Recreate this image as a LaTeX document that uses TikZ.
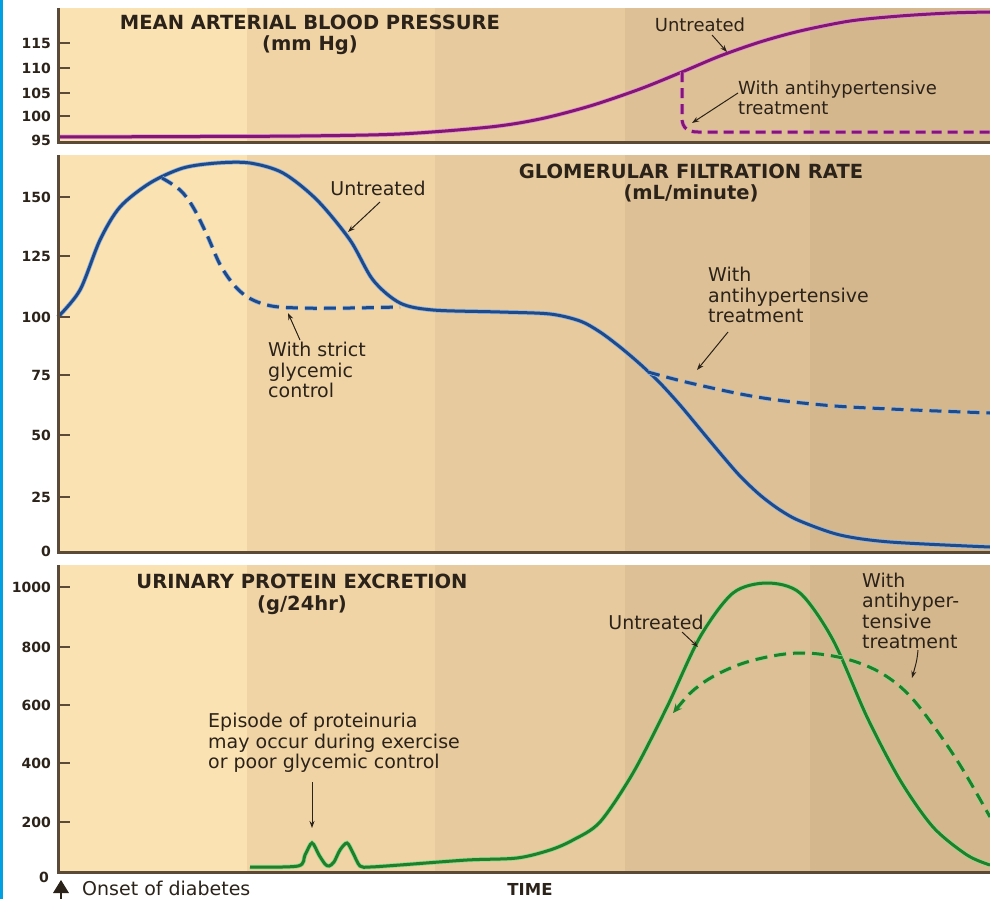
\documentclass[tikz,border=0pt]{standalone}
\usepackage{fontspec}
\setmainfont{DejaVu Sans}
\usetikzlibrary{arrows.meta}
\definecolor{bandA}{HTML}{FBE2B2}
\definecolor{bandB}{HTML}{F0D4A6}
\definecolor{bandC}{HTML}{E7CA9D}
\definecolor{bandD}{HTML}{DEC096}
\definecolor{bandE}{HTML}{D5B78E}
\definecolor{axisc}{HTML}{5C4A38}
\definecolor{txtc}{HTML}{2B2219}
\definecolor{mapc}{HTML}{821672}
\definecolor{maphalo}{HTML}{E295D6}
\definecolor{gfrc}{HTML}{1E4A8A}
\definecolor{gfrhalo}{HTML}{95B8E2}
\definecolor{grnc}{HTML}{1F7F2A}
\definecolor{grnhalo}{HTML}{8EDC8E}
\definecolor{framec}{HTML}{00A0E3}
\newcommand{\mypanelbg}[2]{%
  \fill[bandA] (58,#1) rectangle (247,#2);
  \fill[bandB] (247,#1) rectangle (435,#2);
  \fill[bandC] (435,#1) rectangle (625,#2);
  \fill[bandD] (625,#1) rectangle (810,#2);
  \fill[bandE] (810,#1) rectangle (990,#2);}
\tikzset{
  axisline/.style={draw=axisc, line width=3pt},
  tickmark/.style={draw=axisc, line width=2pt},
  ticklab/.style={anchor=east, inner sep=0pt, text=txtc, font=\fontsize{14}{14}\selectfont\bfseries},
  paneltitle/.style={align=center, inner sep=0pt, text=txtc, font=\fontsize{19.5}{21}\selectfont\bfseries},
  lab/.style={align=left, inner sep=0pt, text=txtc, font=\fontsize{19}{20.5}\selectfont},
  labsmall/.style={align=left, inner sep=0pt, text=txtc, font=\fontsize{18}{20}\selectfont},
  pointer/.style={draw=txtc, line width=1pt, -{Stealth[length=7pt,width=5pt]}},
  mapcurve/.style={draw=mapc, line width=3pt, preaction={draw=maphalo, line width=4.5pt}},
  mapdash/.style={draw=mapc, line width=3pt, dash pattern=on 10pt off 6pt,
     preaction={draw=maphalo, line width=4.5pt, dash pattern=on 10pt off 6pt}},
  gfrcurve/.style={draw=gfrc, line width=3pt, preaction={draw=gfrhalo, line width=4.5pt}},
  gfrdash/.style={draw=gfrc, line width=3pt, dash pattern=on 12pt off 7pt,
     preaction={draw=gfrhalo, line width=4.5pt, dash pattern=on 12pt off 7pt}},
  grncurve/.style={draw=grnc, line width=3pt, preaction={draw=grnhalo, line width=4.5pt}},
  grndash/.style={draw=grnc, line width=3pt, dash pattern=on 12pt off 7pt,
     preaction={draw=grnhalo, line width=4.5pt, dash pattern=on 12pt off 7pt}}
}
\begin{document}
\begin{tikzpicture}[x=1pt,y=-1pt]
\useasboundingbox (0,0) rectangle (990,899);
\fill[white] (0,0) rectangle (990,899);
\fill[framec] (0,0) rectangle (3,899);

% ---------- backgrounds ----------
\mypanelbg{8}{142}
\mypanelbg{155}{552}
\mypanelbg{565}{872}

% ---------- panel 1: MAP ----------
\draw[mapcurve] plot[smooth, tension=0.5] coordinates {(58,137) (200,136.5) (300,136) (400,134) (490,127) (540,119) (590,106) (640,89) (682,72) (720,56) (760,42) (800,31) (850,21) (900,16) (950,13) (990,12)};
\draw[mapdash] (682,72) -- (682,118) .. controls (682,128) and (688,132) .. (698,132) -- (990,132);
\draw[axisline] (58,8) -- (58,142) -- (990,142);
\foreach \yy/\lab in {43/115,68/110,93/105,116/100}{
  \draw[tickmark] (58,\yy) -- (70,\yy);
  \node[ticklab] at (51,\yy) {\lab};}
\node[ticklab] (l95) at (51,140) {95};
\node[paneltitle] (t1) at (310,35) {MEAN ARTERIAL BLOOD PRESSURE\\(mm Hg)};
\node[labsmall] (u1) at (700,25) {Untreated};
\node[labsmall, anchor=west] (a1) at (738,98) {With antihypertensive\\treatment};
\coordinate (u1s) at (712,35); \coordinate (u1e) at (727,52);
\coordinate (a1s) at (738,93); \coordinate (a1e) at (692,123);
\draw[pointer] (u1s) -- (u1e);
\draw[pointer] (a1s) -- (a1e);

% ---------- panel 2: GFR ----------
\draw[gfrcurve] plot[smooth, tension=0.5] coordinates {(58,317) (80,290) (100,240) (120,207) (150,183) (183,168) (217,163) (250,163) (283,173) (317,200) (350,240) (373,280) (400,303) (433,310) (500,312) (550,314) (580,321) (600,332) (620,347) (640,364) (660,383) (680,405) (700,429) (720,453) (740,476) (760,495) (780,510) (800,521) (840,535) (890,542) (990,547)};
\draw[gfrdash] plot[smooth, tension=0.6] coordinates {(162,178) (180,190) (193,207) (207,235) (222,268) (242,293) (267,305) (300,308) (350,308) (400,307)};
\draw[gfrdash] plot[smooth, tension=0.6] coordinates {(648,372) (690,383) (757,397) (823,405) (890,409) (990,413)};
\draw[axisline] (58,155) -- (58,552) -- (990,552);
\foreach \yy/\lab in {197/150,256/125,317/100,375/75,435/50,497/25}{
  \draw[tickmark] (58,\yy) -- (70,\yy);
  \node[ticklab] at (51,\yy) {\lab};}
\node[ticklab] (l0b) at (51,551) {0};
\node[paneltitle] (t2) at (691,183) {GLOMERULAR FILTRATION RATE\\(mL/minute)};
\node[lab] (u2) at (378,188) {Untreated};
\node[lab, anchor=west] (s2) at (268,370) {With strict\\glycemic\\control};
\node[lab, anchor=west] (a2) at (708,295) {With\\antihypertensive\\treatment};
\coordinate (u2s) at (380,202); \coordinate (u2e) at (348,232);
\coordinate (s2s) at (300,340); \coordinate (s2e) at (288,313);
\coordinate (a2s) at (728,332); \coordinate (a2e) at (697,370);
\draw[pointer] (u2s) -- (u2e);
\draw[pointer] (s2s) -- (s2e);
\draw[pointer] (a2s) -- (a2e);

% ---------- panel 3: urinary protein ----------
\draw[grncurve] plot[smooth, tension=0.5] coordinates {(250,867) (298,866) (305,855) (312,843) (319,855) (325,864) (329,866) (334,862) (340,850) (347,843) (353,853) (360,866) (370,867) (400,865) (467,860) (517,858) (550,850) (573,840) (600,822) (633,773) (667,707) (700,637) (733,593) (767,583) (800,593) (833,640) (867,717) (900,780) (933,827) (967,855) (990,865)};
\draw[grndash, {Stealth[length=9pt,width=8pt]}-] plot[smooth, tension=0.6] coordinates {(673,713) (700,685) (733,667) (767,657) (800,653) (833,656) (862,664) (886,676) (908,694) (930,721) (960,765) (990,817)};
\draw[axisline] (58,565) -- (58,872) -- (990,872);
\foreach \yy/\lab in {587/1000,647/800,705/600,763/400,822/200}{
  \draw[tickmark] (58,\yy) -- (70,\yy);
  \node[ticklab] at (51,\yy) {\lab};}
\node[ticklab] (l0c) at (49,877) {0};
\node[paneltitle, font=\fontsize{19.5}{22}\selectfont\bfseries] (t3) at (302,594) {URINARY PROTEIN EXCRETION\\(g/24hr)};
\node[lab] (u3) at (656,622) {Untreated};
\node[lab, anchor=west] (a3) at (862,611) {With\\antihyper-\\tensive\\treatment};
\node[lab, anchor=west] (e3) at (208,743) {Episode of proteinuria\\may occur during exercise\\or poor glycemic control};
\coordinate (u3s) at (682,632); \coordinate (u3e) at (698,647);
\coordinate (a3s) at (918,650); \coordinate (a3e) at (912,678);
\coordinate (e3s) at (312,782); \coordinate (e3e) at (312,828);
\draw[pointer] (u3s) -- (u3e);
\draw[pointer] (a3s) .. controls (917,660) .. (a3e);
\draw[pointer] (e3s) -- (e3e);

% ---------- bottom ----------
\fill[txtc] (53,893) -- (61,880) -- (69,893) -- cycle;
\draw[txtc, line width=1.5pt] (61,892) -- (61,899);
\node[lab, anchor=west] (onset) at (82,888) {Onset of diabetes};
\node[paneltitle, font=\fontsize{16.5}{16.5}\selectfont\bfseries] (time) at (530,889) {TIME};
\end{tikzpicture}
\end{document}
